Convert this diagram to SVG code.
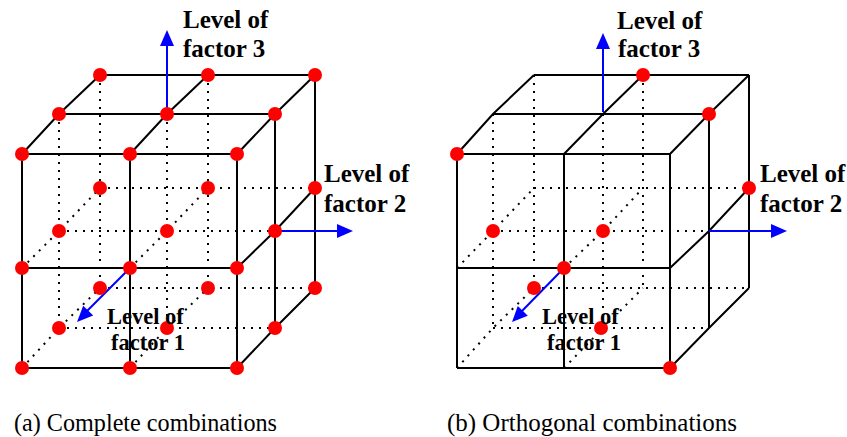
<svg xmlns="http://www.w3.org/2000/svg" width="847" height="437" viewBox="0 0 847 437">
<style>
.s{fill:none;stroke:#000;stroke-width:2;stroke-linejoin:miter}
.d{fill:none;stroke:#000;stroke-width:2;stroke-dasharray:2 6}
.ax{fill:none;stroke:#0000ff;stroke-width:2}
.ah{fill:#0000ff;stroke:none}
.pt{fill:#ff0000}
.lb{font-family:"Liberation Serif","Times New Roman",serif;font-weight:bold;font-size:25px;fill:#000}
.lb1{font-family:"Liberation Serif","Times New Roman",serif;font-weight:bold;font-size:22.5px;fill:#000}
.cap{font-family:"Liberation Serif","Times New Roman",serif;font-size:25px;fill:#000}
</style>
<rect width="847" height="437" fill="#fff"/>
<g id="cube-a">
<g id="cube-a-lines">
<path class="d" d="M59,231H275 M59,328H275 M100,188H315 M100,288H315 M59,114V328 M167,114V328 M100,75V288 M208,75V288 M22,268L59,231L100,188 M22,368L59,328L100,288 M130,268L167,231L208,188 M130,368L167,328L208,288"/>
<path class="s" d="M22,154H237 M22,268H237 M22,368H237 M59,114H275 M100,75H315 M22,154V368 M130,154V368 M237,154V368 M275,114V328 M315,75V288 M22,154L59,114L100,75 M130,154L167,114L208,75 M237,154L275,114L315,75 M237,268L275,231L315,188 M237,368L275,328L315,288"/>
</g>
<g id="cube-a-axes">
<path class="ax" d="M167,114V46 M275,231H337 M130,268L87,311"/>
<polygon class="ah" points="167,30 160,46 174,46"/>
<polygon class="ah" points="353,231 337,224 337,238"/>
<polygon class="ah" points="77,322 93.2,315.5 83.2,305.7"/>
</g>
<g id="cube-a-points" class="pt">
<circle cx="22" cy="154" r="7"/><circle cx="130" cy="154" r="7"/><circle cx="237" cy="154" r="7"/>
<circle cx="22" cy="268" r="7"/><circle cx="130" cy="268" r="7"/><circle cx="237" cy="268" r="7"/>
<circle cx="22" cy="368" r="7"/><circle cx="130" cy="368" r="7"/><circle cx="237" cy="368" r="7"/>
<circle cx="59" cy="114" r="7"/><circle cx="167" cy="114" r="7"/><circle cx="275" cy="114" r="7"/>
<circle cx="59" cy="231" r="7"/><circle cx="167" cy="231" r="7"/><circle cx="275" cy="231" r="7"/>
<circle cx="59" cy="328" r="7"/><circle cx="167" cy="328" r="7"/><circle cx="275" cy="328" r="7"/>
<circle cx="100" cy="75" r="7"/><circle cx="208" cy="75" r="7"/><circle cx="315" cy="75" r="7"/>
<circle cx="100" cy="188" r="7"/><circle cx="208" cy="188" r="7"/><circle cx="315" cy="188" r="7"/>
<circle cx="100" cy="288" r="7"/><circle cx="208" cy="288" r="7"/><circle cx="315" cy="288" r="7"/>
</g>
<g id="cube-a-labels">
<text class="lb" x="183" y="28">Level of</text>
<text class="lb" x="183" y="57">factor 3</text>
<text class="lb" x="324" y="182">Level of</text>
<text class="lb" x="324" y="212">factor 2</text>
<text class="lb1" x="107" y="324">Level of</text>
<text class="lb1" x="111" y="350">factor 1</text>
</g>
<text class="cap" x="14" y="431" textLength="263" lengthAdjust="spacingAndGlyphs">(a) Complete combinations</text>
</g>
<g id="cube-b">
<g id="cube-b-lines">
<path class="d" d="M493,231H709 M493,328H709 M534,188H749 M534,288H749 M493,114V328 M603,114V328 M534,75V288 M643,75V288 M457,268L493,231L534,188 M457,368L493,328L534,288 M564,268L603,231L643,188 M564,368L603,328L643,288"/>
<path class="s" d="M457,154H670 M457,268H670 M457,368H670 M493,114H709 M534,75H749 M457,154V368 M564,154V368 M670,154V368 M709,114V328 M749,75V288 M457,154L493,114L534,75 M564,154L603,114L643,75 M670,154L709,114L749,75 M670,268L709,231L749,188 M670,368L709,328L749,288"/>
</g>
<g id="cube-b-axes">
<path class="ax" d="M603,112V49 M709,231H771 M564,268L522,311"/>
<polygon class="ah" points="603,33 596,49 610,49"/>
<polygon class="ah" points="787,231 771,224 771,238"/>
<polygon class="ah" points="512,322 527.8,315.7 517.8,306"/>
</g>
<g id="cube-b-points" class="pt">
<circle cx="457" cy="154" r="7"/>
<circle cx="643" cy="75" r="7"/>
<circle cx="709" cy="114" r="7"/>
<circle cx="749" cy="188" r="7"/>
<circle cx="670" cy="368" r="7"/>
<circle cx="493" cy="231" r="7"/>
<circle cx="603" cy="231" r="7"/>
<circle cx="564" cy="268" r="7"/>
<circle cx="534" cy="288" r="7"/>
<circle cx="601" cy="328" r="7"/>
</g>
<g id="cube-b-labels">
<text class="lb" x="617" y="29">Level of</text>
<text class="lb" x="618" y="57">factor 3</text>
<text class="lb" x="760" y="182">Level of</text>
<text class="lb" x="760" y="212">factor 2</text>
<text class="lb1" x="542" y="324">Level of</text>
<text class="lb1" x="547" y="350">factor 1</text>
</g>
<text class="cap" x="447" y="431" textLength="290" lengthAdjust="spacingAndGlyphs">(b) Orthogonal combinations</text>
</g>
</svg>
